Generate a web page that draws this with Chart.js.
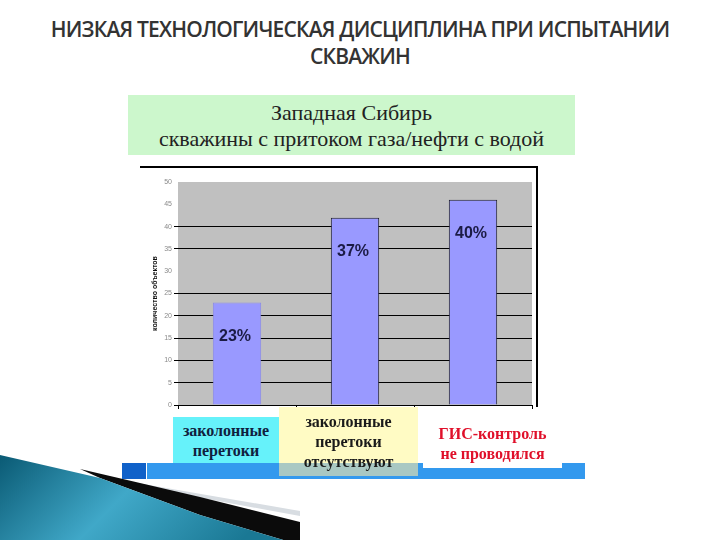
<!DOCTYPE html>
<html>
<head>
<meta charset="utf-8">
<script src="https://cdn.jsdelivr.net/npm/chart.js@4/dist/chart.umd.min.js"></script>
<style>
  body { margin: 0; background: #fff; }
  #page { position: relative; width: 720px; height: 540px; overflow: hidden; background: #fff; }
  .abs { position: absolute; }
  #title { left: 0; top: 16px; width: 720px; text-align: center; font-family: "Open Sans", sans-serif; font-weight: 600; font-size: 21px; line-height: 27px; color: #333; letter-spacing: -0.8px; }
  #green { left: 128px; top: 95px; width: 447px; height: 60px; background: #ccf7cc; text-align: center; font-family: "Liberation Serif", serif; font-size: 22px; line-height: 26px; color: #222; padding-top: 5px; box-sizing: border-box; }
  #frame { left: 140px; top: 166px; width: 396px; height: 239px; border-top: 2px solid #000; border-right: 2px solid #000; }
  #chartBox { left: 130px; top: 160px; width: 420px; height: 260px; }
  .note { font-family: "Liberation Serif", serif; font-weight: bold; font-size: 16px; line-height: 20px; text-align: center; box-sizing: border-box; }
  #band { left: 147px; top: 463px; width: 438px; height: 16px; background: #3399ee; }
  #band2 { left: 122px; top: 463px; width: 24px; height: 16px; background: #1061c9; }
  #cyan { left: 173px; top: 417px; width: 106px; height: 46px; background: #66f2fa; color: #10203e; padding-top: 4px; }
  #yellow { left: 279px; top: 407px; width: 139px; height: 69px; background: linear-gradient(#fffbc4 0, #fffbc4 56px, #a9c8c3 56px); color: #1a1a1a; padding-top: 5px; }
  #white { left: 423px; top: 418px; width: 139px; height: 50px; background: #fff; color: #e0102a; padding-top: 6px; }
  svg { position: absolute; left: 0; top: 0; }
</style>
</head>
<body>
<div id="page">
  <svg width="720" height="540">
    <defs>
      <linearGradient id="teal" x1="0" y1="0" x2="1" y2="0.3">
        <stop offset="0" stop-color="#0a5a74"/>
        <stop offset="0.5" stop-color="#40a8c8"/>
        <stop offset="1" stop-color="#1a7894"/>
      </linearGradient>
    </defs>
    <polygon points="120,480 300,511 300,516 120,483" fill="#d8dde2"/>
    <polygon points="80,469 200,497 300,522 300,545 200,515 100,478" fill="#0b0b0b"/>
    <polygon points="0,455 100,478 200,515 300,545 0,545" fill="url(#teal)"/>
  </svg>

  <div id="title" class="abs">НИЗКАЯ ТЕХНОЛОГИЧЕСКАЯ ДИСЦИПЛИНА ПРИ ИСПЫТАНИИ<br>СКВАЖИН</div>
  <div id="green" class="abs">Западная Сибирь<br>скважины с притоком газа/нефти с водой</div>

  <div id="frame" class="abs"></div>
  <div id="chartBox" class="abs"><canvas id="myChart"></canvas></div>

  <div id="band2" class="abs"></div>
  <div id="band" class="abs"></div>
  <div id="cyan" class="abs note">заколонные<br>перетоки</div>
  <div id="yellow" class="abs note">заколонные<br>перетоки<br>отсутствуют</div>
  <div id="white" class="abs note">ГИС-контроль<br>не проводился</div>
</div>

<script>
var categories = ['заколонные перетоки', 'заколонные перетоки отсутствуют', 'ГИС-контроль не проводился'];
var objectCounts = [23, 42, 46];
var shareLabels = ['23%', '37%', '40%'];
var yTickValues = [0, 5, 10, 15, 20, 25, 30, 35, 40, 45, 50];
var hiddenGridValues = [30, 45, 50];

// grey plot background like the old Excel chart
var plotBackground = {
    id: 'plotBackground',
    beforeDraw: function(chart) {
        var a = chart.chartArea;
        var c = chart.ctx;
        c.save();
        c.fillStyle = '#c0c0c0';
        c.fillRect(a.left, a.top, a.right - a.left, a.bottom - a.top);
        c.restore();
    }
};

var shareText = {
    id: 'shareText',
    afterDatasetsDraw: function(chart) {
        var c = chart.ctx;
        var meta = chart.getDatasetMeta(0);
        c.save();
        c.font = 'bold 16px "Liberation Sans", Arial, sans-serif';
        c.fillStyle = '#1b1b45';
        c.textAlign = 'center';
        c.textBaseline = 'middle';
        meta.data.forEach(function(bar, i) {
            c.fillText(shareLabels[i], bar.x - 2, bar.y + 34);
        });
        c.restore();
    }
};

function char(labels, values) {
    var ctx = document.getElementById('myChart');
    var myChart = new Chart(ctx, {
        type: 'bar',
        data: {
            labels: labels,
            datasets: [{
                data: values,
                backgroundColor: '#9999ff',
                borderColor: ['#8a8ae8', '#1a1a2a', '#1a1a2a'],
                borderWidth: { left: 1, right: 1, top: 1, bottom: 0 },
                barPercentage: 0.41,
                categoryPercentage: 1
            }]
        },
        options: {
            responsive: true,
            maintainAspectRatio: false,
            animation: false,
            layout: { padding: { top: 22, right: 18, left: 0, bottom: 0 } },
            plugins: {
                legend: { display: false },
                tooltip: { enabled: false }
            },
            scales: {
                x: {
                    afterFit: function(s) { s.height = 15; },
                    ticks: { display: false },
                    grid: { drawOnChartArea: false, tickLength: 4, color: '#000' },
                    border: { display: true, color: '#000', width: 1 }
                },
                y: {
                    min: 0,
                    max: 50,
                    afterFit: function(s) { s.width = 48; },
                    afterBuildTicks: function(s) {
                        s.ticks = yTickValues.map(function(v) { return { value: v }; });
                    },
                    ticks: {
                        font: { size: 7, family: 'Arial' },
                        color: '#8a8a8a',
                        padding: 2
                    },
                    grid: {
                        tickLength: 4,
                        lineWidth: 1,
                        color: function(c) {
                            if (c.tick && hiddenGridValues.indexOf(c.tick.value) != -1) return 'rgba(0,0,0,0)';
                            return '#000';
                        }
                    },
                    border: { display: false },
                    title: {
                        display: true,
                        text: 'количество объектов',
                        font: { size: 7, weight: 'bold', family: 'Arial' },
                        color: '#111',
                        padding: { top: 21, bottom: 0 }
                    }
                }
            }
        },
        plugins: [plotBackground, shareText]
    });
}

char(categories, objectCounts);
</script>
</body>
</html>
